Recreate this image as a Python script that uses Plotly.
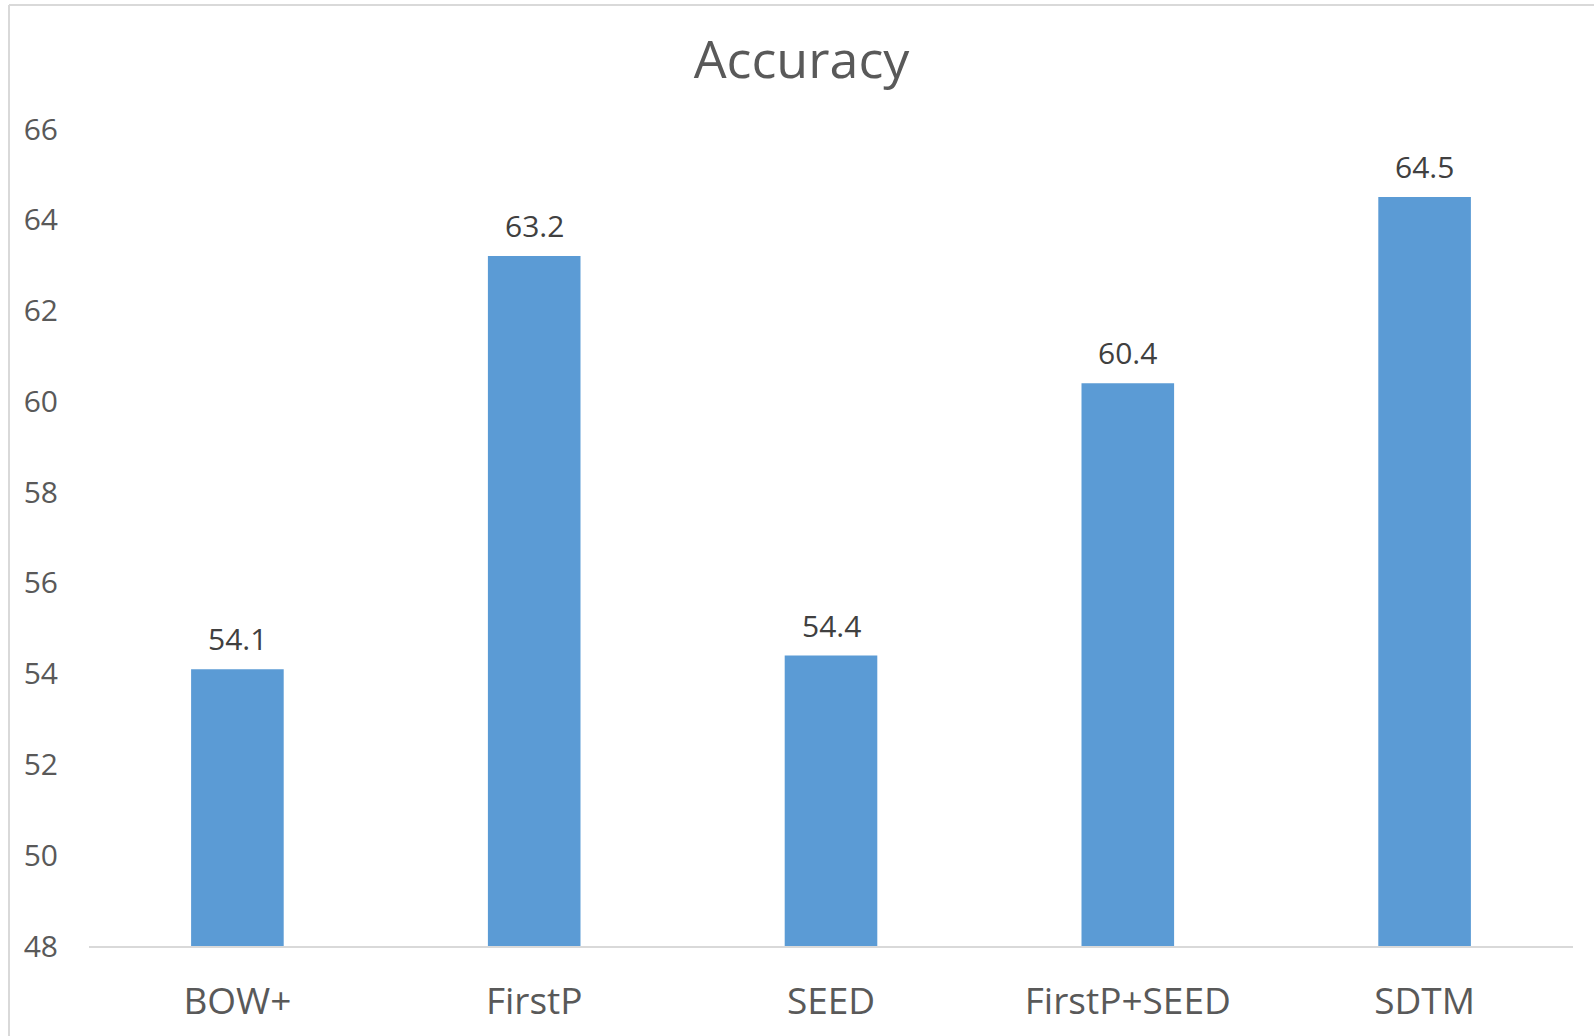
import plotly.graph_objects as go

categories = ["BOW+", "FirstP", "SEED", "FirstP+SEED", "SDTM"]
accuracy = [54.1, 63.2, 54.4, 60.4, 64.5]
y_ticks = [48, 50, 52, 54, 56, 58, 60, 62, 64, 66]

BAR = "#5B9BD5"
TXT = "#595959"
LBL = "#404040"
FONT = "Open Sans, Noto Sans, sans-serif"

W, H = 1594, 1036
ML, MR, MT, MB = 89, 21, 129, 90

fig = go.Figure(go.Bar(
    x=categories, y=accuracy, marker=dict(color=BAR, line=dict(width=0)),
    width=0.312,
))

for c, v in zip(categories, accuracy):
    fig.add_annotation(x=c, y=v, text=f"{v:.1f}", showarrow=False,
                       yanchor="bottom", yshift=8,
                       font=dict(family=FONT, size=30, color=LBL))

pw = W - ML - MR
ph = H - MT - MB
# chart border (left and top)
fig.add_shape(type="line", xref="paper", yref="paper",
              x0=(9 - ML) / pw, x1=(W - ML) / pw,
              y0=(H - MB - 5) / ph, y1=(H - MB - 5) / ph,
              line=dict(color="#d9d9d9", width=2))
fig.add_shape(type="line", xref="paper", yref="paper",
              x0=(9 - ML) / pw, x1=(9 - ML) / pw,
              y0=(H - MB - 5) / ph, y1=-MB / ph,
              line=dict(color="#d9d9d9", width=2))

fig.update_layout(
    width=W, height=H,
    margin=dict(l=ML, r=MR, t=MT, b=MB),
    paper_bgcolor="white", plot_bgcolor="white",
    showlegend=False,
    title=dict(text="Accuracy", x=801.5 / W, xref="container", xanchor="center",
               y=1 - 60 / H, yref="container", yanchor="middle",
               font=dict(family=FONT, size=52, color=TXT)),
    font=dict(family=FONT, color=TXT),
)
fig.update_xaxes(showline=True, linecolor="#d9d9d9", linewidth=2,
                 showgrid=False, zeroline=False, ticks="",
                 tickfont=dict(family=FONT, size=37, color=TXT),
                 ticklabelstandoff=22)
fig.update_yaxes(range=[48, 66], tickvals=y_ticks,
                 showline=False, showgrid=False, zeroline=False, ticks="",
                 tickfont=dict(family=FONT, size=30, color=TXT),
                 ticklabelstandoff=30)

fig.write_html("out.html", config={"displayModeBar": False},
               post_script="document.body.style.margin='0';document.body.style.overflow='hidden';")
